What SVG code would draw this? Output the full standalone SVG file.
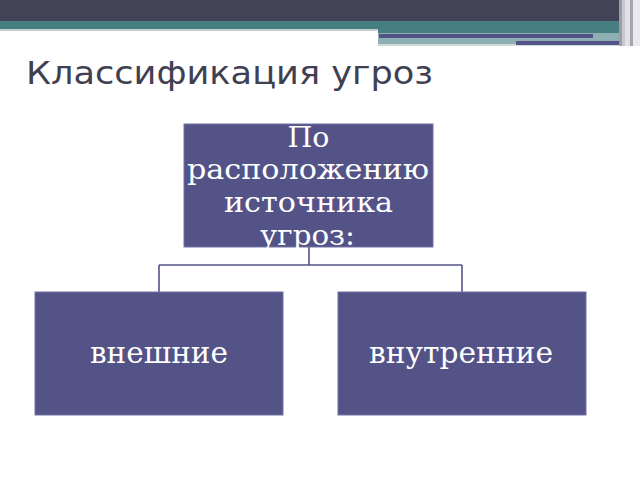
<svg xmlns="http://www.w3.org/2000/svg" width="640" height="480" viewBox="0 0 640 480">
<style>
.box{fill:#535388;stroke:#7373a6;stroke-width:1}
.t{font-family:"DejaVu Serif",serif;fill:#ffffff;text-anchor:middle}
.c{fill:none;stroke:#545488;stroke-width:1.6}
</style>
<rect width="640" height="480" fill="#ffffff"/>
<g id="header">
<rect x="0" y="0" width="640" height="21" fill="#424456"/>
<rect x="0" y="21" width="640" height="8" fill="#467e82"/>
<rect x="0" y="29" width="378" height="2" fill="#c4cccc"/>
<rect x="378" y="29" width="262" height="4" fill="#467e82"/>
<rect x="378" y="33" width="262" height="11" fill="#8fb0b2"/>
<rect x="378" y="44" width="262" height="2" fill="#cfd8d8"/>
<rect x="379" y="34" width="214" height="4" fill="#53538a"/>
<rect x="516" y="41" width="112" height="4" fill="#53538a"/>
<rect x="619" y="0" width="3" height="46" fill="#9a9ca6"/>
<rect x="622" y="0" width="3" height="46" fill="#c8c8d0"/>
<rect x="625" y="0" width="5" height="46" fill="#e2e2e6"/>
<rect x="630" y="0" width="3" height="46" fill="#a4a6ae"/>
<rect x="633" y="0" width="7" height="46" fill="#eaeaee"/>
</g>
<text x="26" y="84" font-family="DejaVu Sans, sans-serif" font-size="32" fill="#3f4152" textLength="407" lengthAdjust="spacingAndGlyphs">Классификация угроз</text>
<g id="connectors">
<path class="c" d="M309 247 V265 M159 265 H462 M159 265 V292 M462 265 V292"/>
</g>
<g id="node-top">
<rect class="box" x="184" y="124" width="249" height="123"/>
<text class="t" font-size="27"><tspan x="308.5" y="147" textLength="42" lengthAdjust="spacingAndGlyphs">По</tspan></text>
<text class="t" font-size="27"><tspan x="308" y="179" textLength="242" lengthAdjust="spacingAndGlyphs">расположению</tspan></text>
<text class="t" font-size="27"><tspan x="308.5" y="212" textLength="169" lengthAdjust="spacingAndGlyphs">источника</tspan></text>
<text class="t" font-size="27"><tspan x="307.5" y="245" textLength="95" lengthAdjust="spacingAndGlyphs">угроз:</tspan></text>
</g>
<g id="node-left">
<rect class="box" x="35" y="292" width="248" height="123"/>
<text class="t" font-size="30" x="159" y="363" textLength="138" lengthAdjust="spacingAndGlyphs">внешние</text>
</g>
<g id="node-right">
<rect class="box" x="338" y="292" width="248" height="123"/>
<text class="t" font-size="30" x="461" y="363" textLength="184" lengthAdjust="spacingAndGlyphs">внутренние</text>
</g>
</svg>
